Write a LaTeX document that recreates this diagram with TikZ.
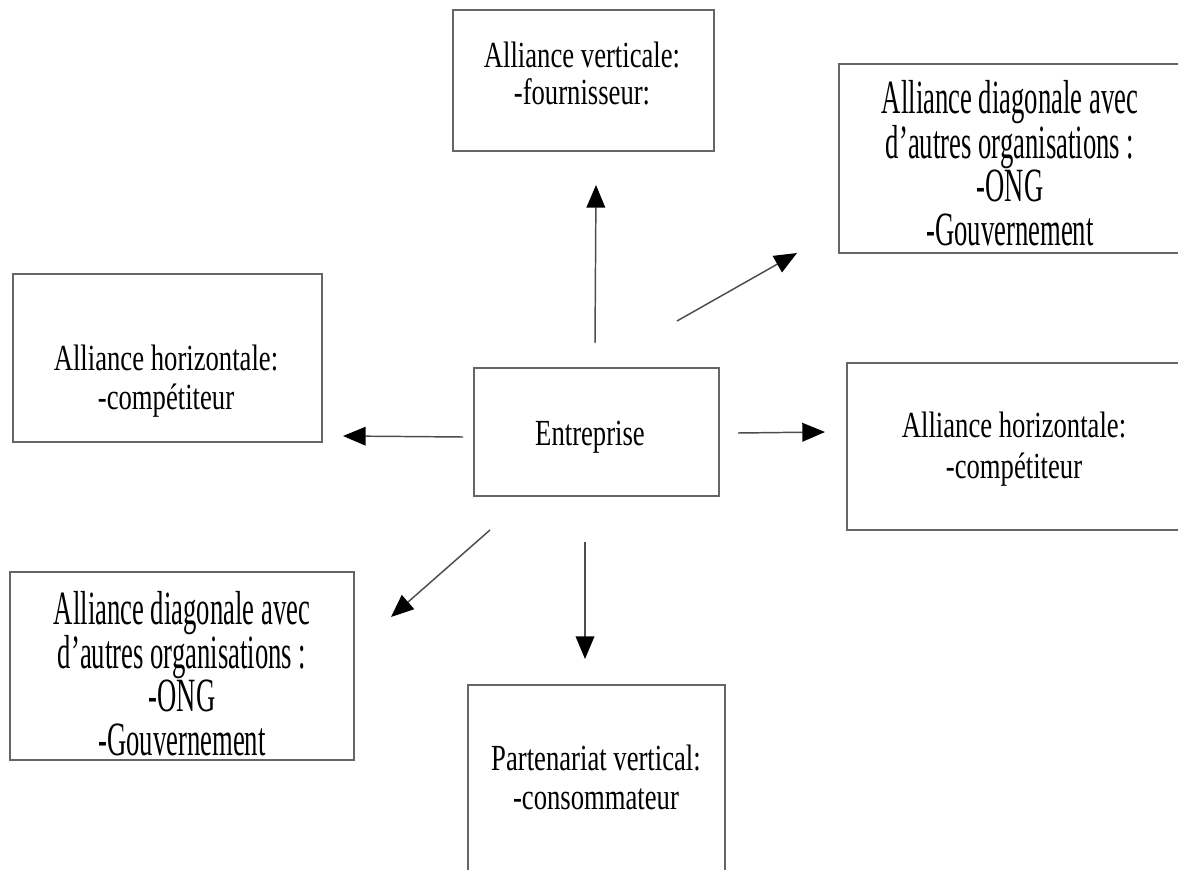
\documentclass[tikz,border=0pt]{standalone}
\usepackage{fontspec}
\setmainfont{Liberation Serif}
\usepackage{graphicx}
\usetikzlibrary{arrows.meta}
\newcommand\stxt[3]{\scalebox{1}[#1]{\fontsize{20pt}{#2}\selectfont\begin{tabular}[t]{@{}c@{}}#3\end{tabular}}}
\begin{document}
\begin{tikzpicture}[x=0.75pt,y=-0.75pt,
  box/.style={draw=black!60, line width=1.4pt, rectangle, inner sep=0pt},
  txt/.style={anchor=base, inner sep=0pt},
  arr/.style={draw=black!70, line width=1.1pt, -{Triangle[length=17pt,width=14pt,black]}}]
\useasboundingbox (0,0) rectangle (1178,870);
% boxes
\node[box, minimum width=261*0.75pt, minimum height=141*0.75pt] (top) at (583.5,80.5) {};
\node[box, minimum width=343*0.75pt, minimum height=189*0.75pt] (topright) at (1010.5,158.5) {};
\node[box, minimum width=309*0.75pt, minimum height=168*0.75pt] (lefth) at (167.5,358) {};
\node[box, minimum width=245*0.75pt, minimum height=128*0.75pt] (ent) at (596.5,432) {};
\node[box, minimum width=335*0.75pt, minimum height=167*0.75pt] (righth) at (1014.5,446.5) {};
\node[box, minimum width=344*0.75pt, minimum height=188*0.75pt] (botleft) at (182,666) {};
\node[box, minimum width=257*0.75pt, minimum height=220*0.75pt] (botc) at (596.5,795) {};
% texts
\node[txt] (topT) at (582,68) {\stxt{1.38}{18.5pt}{Alliance verticale:\\-fournisseur:}};
\node[txt] (toprightT) at (1010,114) {\stxt{1.79}{16.2pt}{Alliance diagonale avec\\d’autres organisations :\\-ONG\\-Gouvernement}};
\node[txt] (lefthT) at (166,370) {\stxt{1.38}{21.7pt}{Alliance horizontale:\\-compétiteur}};
\node[txt] (entT) at (590,445) {\stxt{1.38}{21.7pt}{Entreprise}};
\node[txt] (righthT) at (1014,437) {\stxt{1.38}{22.3pt}{Alliance horizontale:\\-compétiteur}};
\node[txt] (botleftT) at (182,624) {\stxt{1.79}{16.2pt}{Alliance diagonale avec\\d’autres organisations :\\-ONG\\-Gouvernement}};
\node[txt] (botcT) at (596,770) {\stxt{1.38}{21.7pt}{Partenariat vertical:\\-consommateur}};
% arrow end points
\coordinate (aUs) at (595,343); \coordinate (aUe) at (596,185);
\coordinate (aRUs) at (677,321); \coordinate (aRUe) at (797,253);
\coordinate (aLs) at (463,437); \coordinate (aLe) at (343,436);
\coordinate (aRs) at (738,433); \coordinate (aRe) at (825,432);
\coordinate (aDLs) at (490,530); \coordinate (aDLe) at (391,617);
\coordinate (aDs) at (585,542); \coordinate (aDe) at (585,659);
\draw[arr] (aUs) -- (aUe);
\draw[arr] (aRUs) -- (aRUe);
\draw[arr] (aLs) -- (aLe);
\draw[arr] (aRs) -- (aRe);
\draw[arr] (aDLs) -- (aDLe);
\draw[arr] (aDs) -- (aDe);
\end{tikzpicture}
\end{document}
